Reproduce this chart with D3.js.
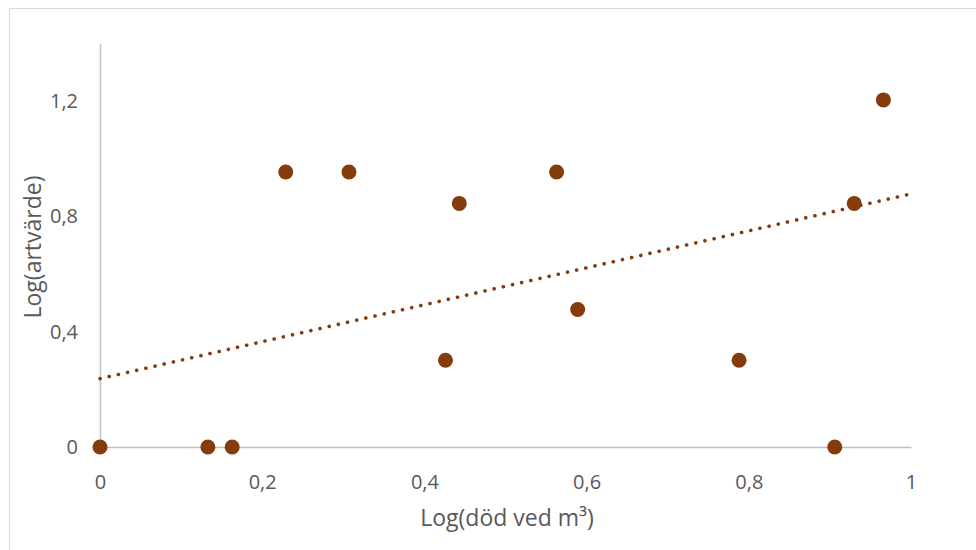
<!DOCTYPE html>
<html><head><meta charset="utf-8">
<script src="https://cdn.jsdelivr.net/npm/d3@7"></script>
<style>body{margin:0;background:#fff}svg{display:block}text{font-family:"Open Sans",sans-serif;fill:#595959}</style>
</head><body>
<script>
const xValues = [0, 0.133, 0.163, 0.229, 0.307, 0.426, 0.443, 0.563, 0.589, 0.788, 0.906, 0.930, 0.966];
const yValues = [0, 0, 0, 0.954, 0.954, 0.301, 0.845, 0.954, 0.477, 0.301, 0, 0.845, 1.204];
const xTicks = [0, 0.2, 0.4, 0.6, 0.8, 1];
const yTicks = [0, 0.4, 0.8, 1.2];
const trendX = [0, 1];
const trendY = [0.237, 0.878];
const xTitle = "Log(död ved m³)";
const yTitle = "Log(artvärde)";

const W = 976, H = 550;
const svg = d3.select("body").append("svg").attr("width", W).attr("height", H);
svg.append("rect").attr("x", 9.5).attr("y", 8.5).attr("width", W).attr("height", H)
  .attr("fill", "none").attr("stroke", "#d9d9d9").attr("stroke-width", 1);

const x = d3.scaleLinear().domain([0, 1]).range([100, 911]);
const y = d3.scaleLinear().domain([0, 1.4]).range([447, 43.4]);
const fmt = d => d3.format("")(d).replace(".", ",");

const xAxis = svg.append("g").attr("transform", `translate(0,${y(0)})`)
  .call(d3.axisBottom(x).tickValues(xTicks).tickSize(0).tickPadding(28).tickFormat(fmt));
xAxis.select(".domain").attr("stroke", "#bfbfbf").attr("stroke-width", 1.5);
xAxis.selectAll("text").attr("font-size", 20).attr("fill", "#595959").attr("font-family", "Open Sans");

const yAxis = svg.append("g").attr("transform", `translate(${x(0)},0)`)
  .call(d3.axisLeft(y).tickValues(yTicks).tickSize(0).tickPadding(22).tickFormat(fmt));
yAxis.select(".domain").attr("stroke", "#bfbfbf").attr("stroke-width", 1.5);
yAxis.selectAll("text").attr("font-size", 20).attr("fill", "#595959").attr("font-family", "Open Sans");

const pts = xValues.map((v, i) => [v, yValues[i]]);
svg.append("g").selectAll("circle").data(pts).join("circle")
  .attr("cx", d => x(d[0])).attr("cy", d => y(d[1])).attr("r", 7.5).attr("fill", "#843c0c");

const line = d3.line().x(d => x(d[0])).y(d => y(d[1]));
svg.append("path").datum(trendX.map((v, i) => [v, trendY[i]])).attr("d", line)
  .attr("fill", "none").attr("stroke", "#843c0c").attr("stroke-width", 3.6)
  .attr("stroke-linecap", "round").attr("stroke-dasharray", "0.1 9.3");

svg.append("text").attr("x", 507).attr("y", 526).attr("text-anchor", "middle")
  .attr("font-size", 23).text(xTitle);
svg.append("text").attr("transform", "translate(41,247) rotate(-90)").attr("text-anchor", "middle")
  .attr("font-size", 23).text(yTitle);
</script>
</body></html>
